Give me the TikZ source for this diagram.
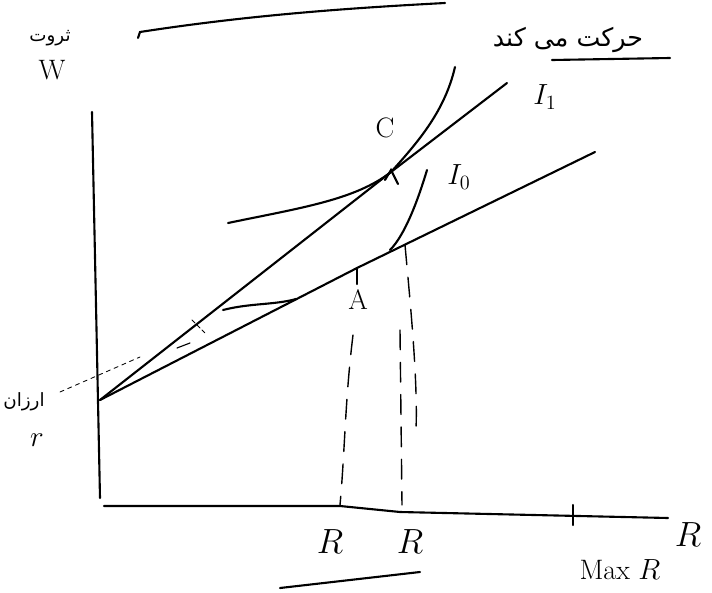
\documentclass[tikz,border=0pt]{standalone}
\usepackage{fontspec}
\newfontfamily\farsi[Script=Arabic]{DejaVu Sans}
\TeXXeTstate=1
\begin{document}
\begin{tikzpicture}[x=0.025cm,y=-0.025cm,line width=1.5pt,line cap=round,
  guide/.style={line width=1pt,dash pattern=on 14pt off 9pt},
  big/.style={font=\fontsize{28}{30}\selectfont},
  mid/.style={font=\fontsize{20}{22}\selectfont}]
\useasboundingbox (0,0) rectangle (712,593);

% axes
\coordinate (Wtop) at (92,112);
\coordinate (O) at (100,498);
\coordinate (Rstart) at (104,506);
\coordinate (Rend) at (668,518);
\draw (Wtop) -- (O);
\draw (Rstart) -- (340,506) -- (400,512) -- (Rend);
\draw (573,505) -- (573,525);

% lines from the intercept
\coordinate (S) at (100,400);
\coordinate (A) at (357,268);
\coordinate (C) at (391,172);
\draw (S) -- (C) -- (507,83);
\draw (S) -- (A) -- (595,152);

% indifference curves
\draw (228,223) .. controls (300,208) and (355,200) .. (C) .. controls (420,140) and (445,110) .. (455,67);
\draw (223,310) .. controls (250,303) and (275,305) .. (296,299);
\draw (390,250) .. controls (405,235) and (418,200) .. (427,170);

% marks at A and C
\draw (A) -- (357,284);
\draw (385,180) -- (391,170) -- (398,184);

% guides down to the axis
\draw[guide] (353,335) .. controls (345,400) and (345,450) .. (340,505);
\draw[guide] (405,245) .. controls (410,300) and (418,380) .. (416,430);
\draw[guide] (400,330) -- (402,505);
\draw[line width=0.6pt,dashed] (60,392) -- (140,357);
\draw[line width=0.6pt,densely dashed] (192,320) -- (205,333);
\draw[line width=0.8pt] (177,348) -- (190,343);

% labels
\node[mid] (wlbl) at (52,70) {W};
\node[font=\fontsize{13}{15}\selectfont] (wfa) at (50,38) {\farsi\beginR ثروت\endR};
\node[mid] (clbl) at (385,128) {C};
\node[mid] (albl) at (358,300) {A};
\node[mid] (ione) at (545,97) {$I_1$};
\node[mid] (izero) at (459,177) {$I_0$};
\node[big] (ra) at (330,542) {$R$};
\node[big] (rb) at (410,542) {$R$};
\node[big] (rc) at (688,535) {$R$};
\node[mid] (maxr) at (620,570) {Max $R$};
\node[font=\fontsize{18}{20}\selectfont] (move) at (568,40) {\farsi\beginR حرکت می کند\endR};
\draw (552,60) -- (670,58);
\node[font=\fontsize{13}{15}\selectfont] (rf) at (24,402) {\farsi\beginR ارزان\endR};
\node[mid] (rr) at (37,440) {$r$};

% stray strokes
\draw (138,38) -- (140,32) .. controls (250,15) and (350,8) .. (445,3);
\draw (280,588) -- (420,572);
\end{tikzpicture}
\end{document}
